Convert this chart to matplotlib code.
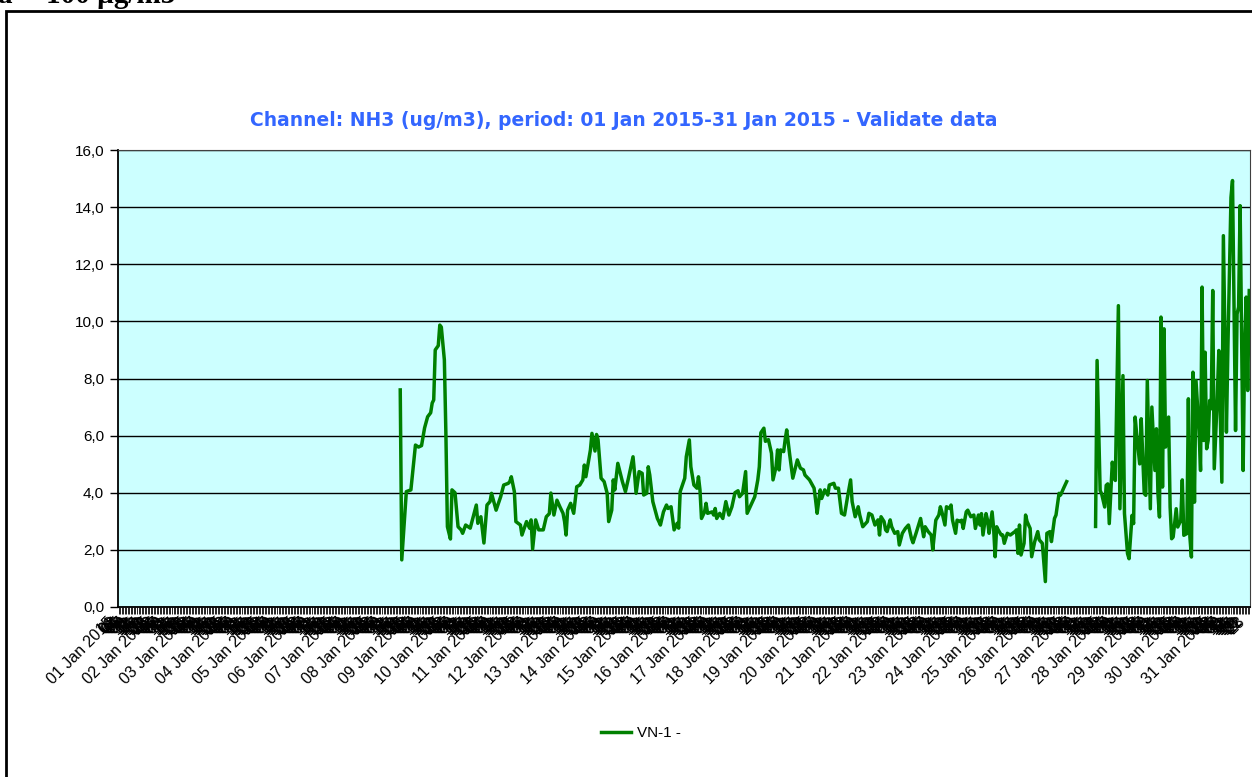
import matplotlib
matplotlib.use("Agg")
import matplotlib.pyplot as plt
import matplotlib.transforms as mtransforms
from matplotlib.ticker import FuncFormatter
from matplotlib.patches import Rectangle
import numpy as np

# hourly category axis: 01 Jan 2015 00:00 .. 31 Jan 2015 23:00
n_hours = 744
days = [f"{d:02d} Jan 2015" for d in range(1, 32)]

# first block of validated data (hour index, ug/m3)
hours_a = [185, 186, 189, 192, 195, 197, 199, 201, 203, 205, 206, 207, 208, 210, 211, 212,
           214, 215, 216, 218, 219, 221, 223, 225, 226, 228, 231, 233, 235, 236, 238, 240,
           242, 244, 245, 248, 251, 253, 256, 257, 258, 260, 261, 264, 265, 268, 270, 271,
           272, 274, 276, 279, 281, 283, 284, 286, 288, 290, 292, 293, 294, 295, 297, 299,
           301, 303, 305, 306, 307, 309, 310, 311, 313, 314, 315, 317, 319, 321, 322, 324,
           325, 326, 328, 331, 333, 335, 338, 339, 340, 342, 344, 345, 347, 348, 349, 351,
           354, 355, 356, 358, 360, 361, 363, 365, 367, 368, 369, 372, 373, 375, 376, 378,
           380, 381, 382, 383, 385, 386, 387, 390, 391, 392, 393, 395, 397, 399, 401, 403,
           405, 407, 408, 410, 412, 413, 416, 418, 420, 421, 422, 424, 425, 427, 429, 430,
           432, 433, 434, 435, 437, 438, 439, 441, 443, 446, 448, 450, 451, 454, 457, 458,
           459, 461, 462, 464, 466, 467, 470, 471, 473, 475, 477, 479, 481, 482, 484, 486,
           487, 489, 492, 493, 495, 497, 499, 500, 501, 503, 504, 505, 507, 508, 510, 512,
           513, 515, 517, 519, 521, 522, 524, 527, 529, 530, 532, 534, 535, 537, 539, 540,
           541, 543, 544, 546, 547, 548, 550, 551, 553, 554, 555, 557, 558, 560, 562, 563,
           565, 566, 567, 568, 570, 571, 572, 574, 575, 576, 577, 578, 580, 581, 582, 584,
           586, 589, 590, 591, 592, 593, 595, 596, 597, 599, 600, 602, 604, 605, 607, 609,
           610, 612, 613, 615, 616, 618, 619, 621, 623]
nh3_a = [7.6, 1.65, 4.04, 4.1, 5.67, 5.6, 5.65, 6.27, 6.66, 6.8, 7.14, 7.25, 9.0, 9.15, 9.87, 9.8,
         8.65, 6.08, 2.81, 2.38, 4.1, 4.0, 2.81, 2.7, 2.58, 2.87, 2.76, 3.16, 3.57, 2.93, 3.16, 2.24,
         3.57, 3.69, 3.98, 3.39, 3.86, 4.27, 4.33, 4.39, 4.56, 4.04, 2.99, 2.87, 2.52, 2.99, 2.76, 3.05,
         2.03, 3.05, 2.7, 2.7, 3.16, 3.27, 3.99, 3.22, 3.74, 3.5, 3.28, 2.99, 2.52, 3.39, 3.63, 3.28,
         4.21, 4.27, 4.45, 4.97, 4.56, 5.2, 5.5, 6.08, 5.46, 6.04, 5.86, 4.51, 4.39, 3.98, 2.99, 3.39,
         4.45, 4.1, 5.03, 4.39, 4.04, 4.51, 5.26, 4.68, 3.98, 4.74, 4.68, 3.92, 3.98, 4.91, 4.62, 3.69,
         3.1, 2.99, 2.87, 3.33, 3.57, 3.45, 3.51, 2.7, 2.93, 2.76, 4.04, 4.51, 5.26, 5.85, 4.91, 4.27,
         4.16, 4.56, 4.1, 3.1, 3.33, 3.63, 3.28, 3.33, 3.22, 3.45, 3.1, 3.28, 3.1, 3.69, 3.22, 3.51,
         4.0, 4.07, 3.86, 3.98, 4.74, 3.28, 3.63, 3.86, 4.45, 4.91, 6.1, 6.26, 5.8, 5.86, 5.38, 4.45,
         4.91, 5.5, 4.8, 5.5, 5.44, 5.86, 6.2, 5.32, 4.51, 5.15, 4.86, 4.8, 4.62, 4.45, 4.16, 3.74,
         3.28, 4.1, 3.8, 4.1, 3.92, 4.27, 4.33, 4.16, 4.16, 3.28, 3.22, 3.86, 4.45, 3.69, 3.16, 3.51,
         3.22, 2.81, 2.99, 3.28, 3.22, 2.87, 3.05, 2.52, 3.16, 2.99, 2.7, 2.64, 3.05, 2.81, 2.58, 2.64,
         2.17, 2.58, 2.75, 2.87, 2.4, 2.25, 2.58, 3.1, 2.46, 2.81, 2.64, 2.52, 2.0, 3.04, 3.22, 3.51,
         3.33, 2.87, 3.51, 3.45, 3.57, 3.04, 2.58, 3.04, 2.99, 3.04, 2.75, 3.33, 3.39, 3.16, 3.22, 2.75,
         3.22, 2.87, 3.27, 2.52, 3.27, 3.04, 2.58, 3.33, 2.75, 1.76, 2.81, 2.7, 2.52, 2.52, 2.23, 2.58,
         2.52, 2.64, 2.7, 1.88, 2.87, 1.82, 2.23, 3.22, 2.99, 2.75, 1.76, 2.29, 2.64, 2.35, 2.23, 0.89,
         2.58, 2.64, 2.29, 3.1, 3.22, 3.98, 3.92, 4.16, 4.39]

# second block of validated data
hours_b = [642, 643, 645, 646, 648, 649, 650, 651, 653, 654, 655, 657, 658, 660, 661, 663,
           664, 666, 667, 668, 669, 671, 672, 674, 675, 676, 678, 679, 681, 682, 683, 684,
           685, 686, 687, 688, 690, 691, 692, 693, 695, 696, 698, 699, 700, 702, 703, 704,
           705, 706, 707, 708, 710, 711, 712, 713, 714, 715, 716, 717, 718, 719, 720, 722,
           723, 725, 726, 728, 729, 731, 732, 734, 735, 736, 737, 739, 740, 741, 742, 743]
nh3_b = [2.82, 8.63, 4.08, 3.96, 3.5, 4.26, 4.31, 2.92, 5.07, 4.55, 4.43, 10.55, 3.44, 8.1, 3.27, 1.87,
         1.69, 3.21, 2.92, 6.65, 6.06, 5.01, 6.59, 3.97, 3.91, 7.93, 3.44, 7.0, 4.78, 6.24, 3.97, 3.15,
         10.15, 4.2, 9.74, 5.6, 6.65, 3.5, 2.39, 2.45, 3.44, 2.8, 3.03, 4.45, 2.51, 2.57, 7.29, 2.45,
         1.75, 8.22, 3.67, 7.93, 6.18, 4.78, 11.2, 5.83, 8.92, 5.54, 5.83, 7.23, 6.94, 11.08, 4.84, 7.35,
         8.98, 4.37, 13.0, 6.12, 9.15, 14.34, 14.93, 6.18, 10.26, 10.5, 14.05, 4.78, 9.15, 10.85, 7.58, 11.08]

W, H = 1252, 777
fig = plt.figure(figsize=(W / 100, H / 100), dpi=100)
ax = fig.add_axes([118 / W, 1 - 607 / H, (1250 - 118) / W, (607 - 150) / H])
ax.set_facecolor("#ccffff")

x = hours_a + [np.nan] + hours_b
y = nh3_a + [np.nan] + nh3_b
ax.plot(x, y, color="#008000", lw=2.5, label="VN-1 -", solid_joinstyle="round")

ax.set_xlim(-0.5, n_hours - 0.5)
ax.set_ylim(0, 16)
ax.set_yticks(np.arange(0, 17, 2))
ax.yaxis.set_major_formatter(FuncFormatter(lambda v, p: f"{v:.1f}".replace(".", ",")))
ax.grid(axis="y", color="black", lw=1)
ax.set_axisbelow(True)

labels = []
for h in range(n_hours):
    if h % 24 == 0:
        labels.append(days[h // 24])
    else:
        labels.append(f"{h % 24:02d}")
ax.set_xticks(range(n_hours))
ax.tick_params(axis="x", length=5, width=0.6, pad=4, color="black")
ax.tick_params(axis="y", length=6, width=1, labelsize=11, pad=4)
ax.set_xticklabels(labels, rotation=45, ha="right", va="center", rotation_mode="anchor",
                   fontsize=11.5, family="Liberation Sans")
# nudge the slanted labels a little to the left, like the original
shift = mtransforms.ScaledTranslation(-7 / 100, 0, fig.dpi_scale_trans)
for t in ax.get_xticklabels():
    t.set_transform(t.get_transform() + shift)
for t in ax.get_yticklabels():
    t.set_family("Liberation Sans")
for s in ["top", "right"]:
    ax.spines[s].set_color("#404040")
for s in ["left", "bottom"]:
    ax.spines[s].set_color("black")
    ax.spines[s].set_linewidth(1.3)

fig.text(624 / W, 1 - 121 / H, "Channel: NH3 (ug/m3), period: 01 Jan 2015-31 Jan 2015 - Validate data",
         ha="center", va="center", color="#3366ff", fontsize=13.5, fontweight="bold",
         family="DejaVu Sans")

fig.legend(loc="center", bbox_to_anchor=(641 / W, 1 - 733 / H), frameon=False,
           prop={"family": "Liberation Sans", "size": 11}, handlelength=1.9, handletextpad=0.4)

# outer frame and the cut-off heading line above it
fig.patches.append(Rectangle((6 / W, -0.1), 2, 1 - 11 / H + 0.1, transform=fig.transFigure,
                             fill=False, edgecolor="black", lw=2, clip_on=False))
fig.text(13 / W, 1 - 3 / H, "ca", ha="right", va="baseline", fontsize=21,
         fontweight="bold", family="Liberation Serif")
fig.text(46 / W, 1 - 3 / H, "100 µg/m3", ha="left", va="baseline", fontsize=21,
         fontweight="bold", family="Liberation Serif")

fig.savefig("out.png", dpi=100)
